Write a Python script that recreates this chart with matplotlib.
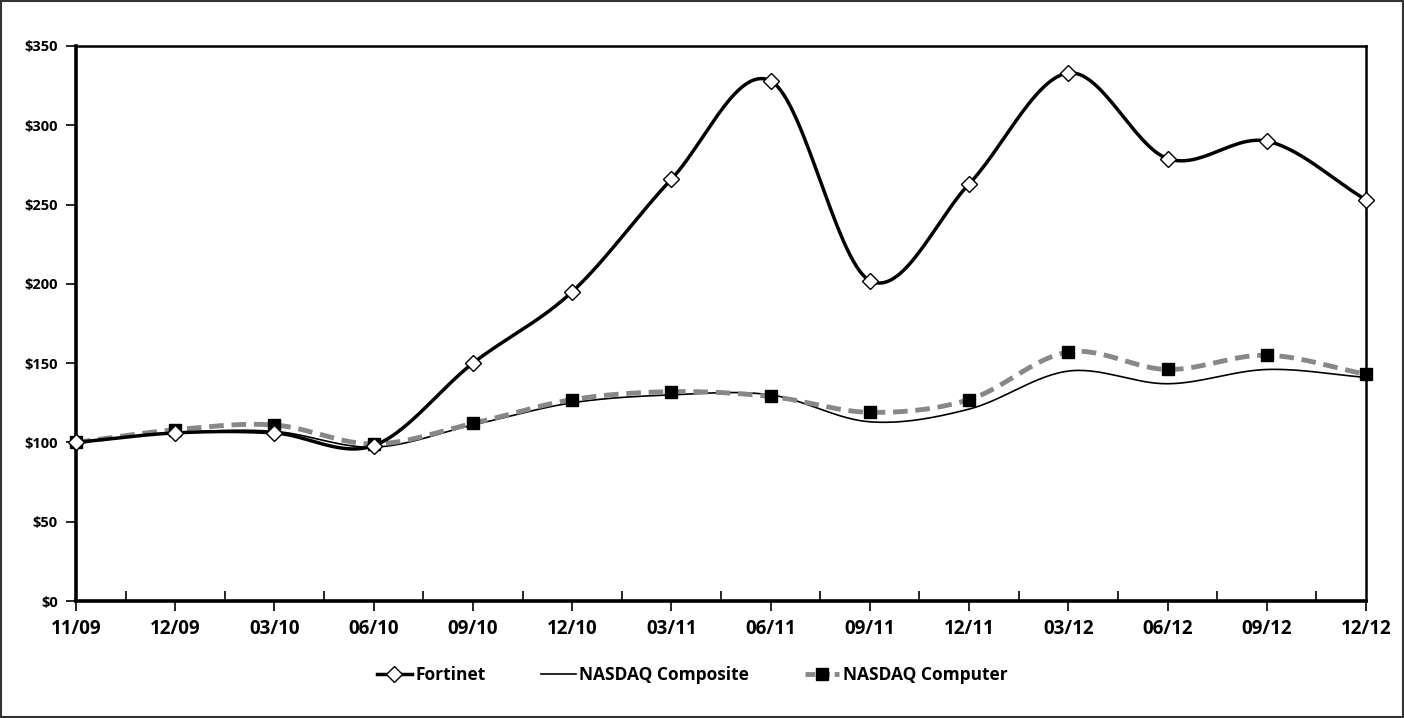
import numpy as np
import matplotlib.pyplot as plt
from matplotlib.ticker import FixedLocator

dates = ['11/09', '12/09', '03/10', '06/10', '09/10', '12/10', '03/11',
         '06/11', '09/11', '12/11', '03/12', '06/12', '09/12', '12/12']
fortinet = [100, 106, 106, 98, 150, 195, 266, 328, 202, 263, 333, 279, 290, 253]
composite = [100, 106, 107, 97, 111, 125, 130, 130, 113, 121, 145, 137, 146, 141]
computer = [100, 108, 111, 99, 112, 127, 132, 129, 119, 127, 157, 146, 155, 143]
yticks = [0, 50, 100, 150, 200, 250, 300, 350]


def smooth(y, n=30):
    # catmull-rom style curve, like excel's "smoothed line"
    y = np.asarray(y, dtype=float)
    x = np.arange(len(y), dtype=float)
    px = np.concatenate([[2 * x[0] - x[1]], x, [2 * x[-1] - x[-2]]])
    py = np.concatenate([[2 * y[0] - y[1]], y, [2 * y[-1] - y[-2]]])
    xs, ys = [], []
    for i in range(1, len(px) - 2):
        t = np.linspace(0, 1, n, endpoint=False)
        for arr, out in ((px, xs), (py, ys)):
            p0, p1, p2, p3 = arr[i - 1], arr[i], arr[i + 1], arr[i + 2]
            out.append(0.5 * ((2 * p1) + (-p0 + p2) * t
                              + (2 * p0 - 5 * p1 + 4 * p2 - p3) * t ** 2
                              + (-p0 + 3 * p1 - 3 * p2 + p3) * t ** 3))
    xs = np.concatenate(xs + [[x[-1]]])
    ys = np.concatenate(ys + [[y[-1]]])
    return xs, ys


plt.rcParams['font.family'] = ['Open Sans', 'DejaVu Sans']

fig = plt.figure(figsize=(14.04, 7.18), dpi=100)
ax = fig.add_axes([76 / 1404, 1 - 601 / 718, 1290 / 1404, 555 / 718])

x = np.arange(len(dates))

sx, sy = smooth(composite)
ax.plot(sx, sy, color='black', lw=1.2, zorder=2, clip_on=False)

sx, sy = smooth(computer)
ax.plot(sx, sy, color='#888888', lw=3.5, ls=(0, (3, 1.6)), zorder=3, clip_on=False)
ax.plot(x, computer, ls='none', marker='s', ms=8, mfc='black', mec='black',
        zorder=4, clip_on=False)

sx, sy = smooth(fortinet)
ax.plot(sx, sy, color='black', lw=2.5, zorder=5, clip_on=False)
ax.plot(x, fortinet, ls='none', marker='D', ms=8, mfc='white', mec='black',
        mew=1.0, zorder=6, clip_on=False)

ax.set_xlim(0, len(dates) - 1)
ax.set_ylim(0, 350)
ax.set_yticks(yticks)
ax.set_yticklabels(['$%d' % v for v in yticks])
ax.set_xticks(x)
ax.set_xticklabels(dates)
ax.xaxis.set_minor_locator(FixedLocator(x[:-1] + 0.5))

ax.tick_params(axis='y', direction='out', length=7, width=1.2, labelsize=10.5, pad=6)
ax.tick_params(axis='x', which='major', direction='out', length=7, width=1.2,
               labelsize=13.5, pad=6)
ax.tick_params(axis='x', which='minor', direction='in', length=7, width=1.2)
for lab in ax.get_xticklabels() + ax.get_yticklabels():
    lab.set_fontweight('bold')

for side in ['top', 'right']:
    ax.spines[side].set_linewidth(1.8)
for side in ['left', 'bottom']:
    ax.spines[side].set_linewidth(2.6)

h1 = plt.Line2D([], [], color='black', lw=2.5, marker='D', ms=8, mfc='white', mec='black')
h2 = plt.Line2D([], [], color='black', lw=1.2)
h3 = plt.Line2D([], [], color='#888888', lw=3.5, ls=(0, (2, 1)), marker='s', ms=8,
                mfc='black', mec='black')
fig.legend([h1, h2, h3], ['Fortinet', 'NASDAQ Composite', 'NASDAQ Computer'],
           loc='center', bbox_to_anchor=(0.493, 1 - 675 / 718), ncol=3,
           frameon=False, handlelength=2.0, handletextpad=0.2, columnspacing=3.2,
           prop={'weight': 'bold', 'size': 12.5})

fig.patches.append(plt.Rectangle((0.0005, 0.001), 0.999, 0.998, transform=fig.transFigure,
                                 fill=False, edgecolor='#333333', lw=1.5))

fig.savefig('out.png', dpi=100)
